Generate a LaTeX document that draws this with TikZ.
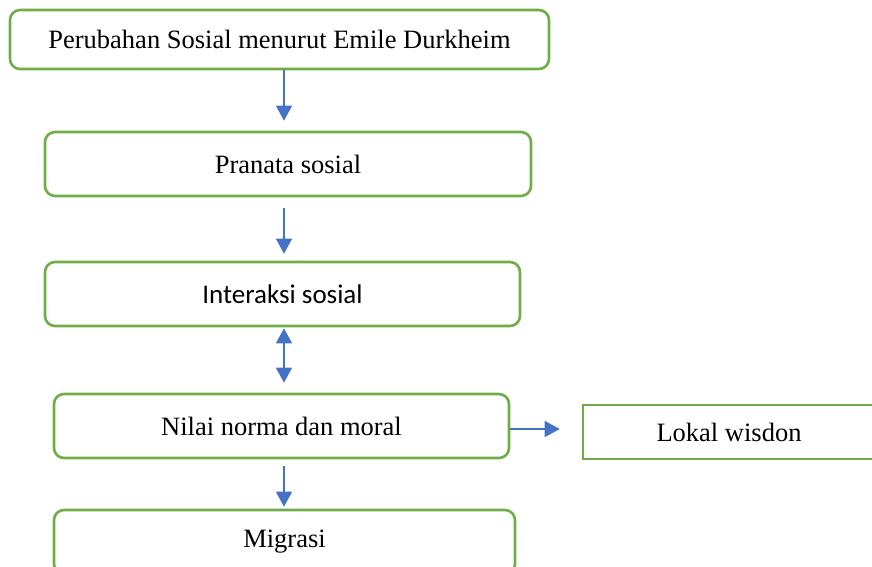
\documentclass[tikz,border=0pt]{standalone}
\usepackage{fontspec}
\setmainfont{Liberation Serif}
\newfontfamily\calibrifont{Carlito}
\usetikzlibrary{arrows.meta}
\definecolor{boxgreen}{HTML}{70AD47}
\definecolor{arrowblue}{HTML}{4472C4}
\tikzset{>={Triangle[length=15pt,width=16pt]}}
\tikzset{
  stage/.style={draw=boxgreen,line width=2.6pt,rounded corners=10pt,
    minimum width=#1,minimum height=64pt,inner sep=0pt,
    font=\fontsize{26.5}{30}\selectfont},
  flow/.style={->,draw=arrowblue,fill=arrowblue,line width=1.3pt}
}

\begin{document}
\begin{tikzpicture}[x=1pt,y=-1pt]
\useasboundingbox (0,0) rectangle (872,567);
\clip (0,0) rectangle (872,567);
\coordinate (axis) at (284,0);
\node[stage=539pt,minimum height=59pt] (durkheim) at (279.5,39.5) {Perubahan Sosial menurut Emile Durkheim};
\node[stage=486pt] (pranata) at (288,164) {Pranata sosial};
\node[stage=475pt,font=\calibrifont\fontsize{27}{31}\selectfont] (interaksi) at (282.5,294) {Interaksi sosial};
\node[stage=455pt] (nilai) at (281.5,426) {Nilai norma dan moral};
\node[stage=292pt,rounded corners=0pt,minimum height=54pt] (lokal) at (729,432) {Lokal wisdon};
\node[stage=461pt] (migrasi) at (284.5,542) {Migrasi};
\draw[flow,shorten >=10pt] (durkheim.south -| axis) -- (pranata.north -| axis);
\draw[flow,shorten <=11pt,shorten >=7pt] (pranata.south -| axis) -- (interaksi.north -| axis);
\draw[flow,<->,shorten <=1pt,shorten >=10pt] (interaksi.south -| axis) -- (nilai.north -| axis);
\draw[flow,shorten <=7pt,shorten >=2pt] (nilai.south -| axis) -- (migrasi.north -| axis);
\draw[flow,shorten >=22pt] ([yshift=-3pt]nilai.east) -- ([yshift=-3pt]nilai.east -| lokal.west);
\end{tikzpicture}
\end{document}
